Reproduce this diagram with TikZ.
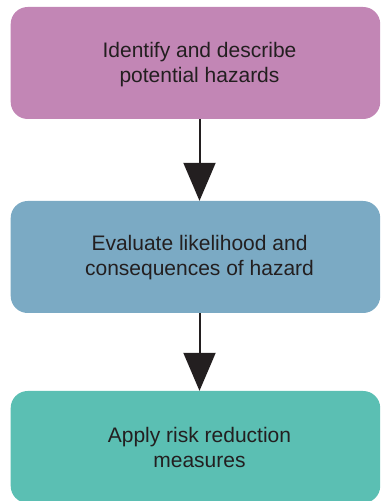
\documentclass[tikz,border=0pt]{standalone}
\usepackage{fontspec}
\setmainfont{Liberation Sans}
\usetikzlibrary{arrows.meta}
\definecolor{boxA}{HTML}{C286B5}
\definecolor{boxB}{HTML}{7BAAC4}
\definecolor{boxC}{HTML}{5BBFB3}
\definecolor{txt}{HTML}{231F20}
\begin{document}
\begin{tikzpicture}[x=1pt,y=1pt,
  stepbox/.style={rectangle,rounded corners=17pt,minimum width=369.5pt,minimum height=112pt,inner sep=0pt,draw=none},
  steptext/.style={align=center,text=txt,font=\fontsize{21}{25}\selectfont,inner sep=0pt},
  flow/.style={draw=txt,line width=2pt,-{Triangle[width=32pt,length=38pt]}}]
\useasboundingbox (0,0) rectangle (381,501);
\node[stepbox,fill=boxA] (b1) at (195.45,438) {};
\node[stepbox,fill=boxB] (b2) at (195.45,244) {};
\node[stepbox,fill=boxC,minimum height=112pt] (b3) at (195.45,54) {};
\node[steptext] (t1) at (199.5,436) {Identify and describe\\potential hazards};
\node[steptext] (t2) at (199.5,243) {Evaluate likelihood and\\consequences of hazard};
\node[steptext] (t3) at (199.5,54) {Apply risk reduction\\measures};
\draw[flow] (t1 |- b1.south) -- (t1 |- b2.north);
\draw[flow] (t2 |- b2.south) -- (t2 |- b3.north);
\end{tikzpicture}
\end{document}
